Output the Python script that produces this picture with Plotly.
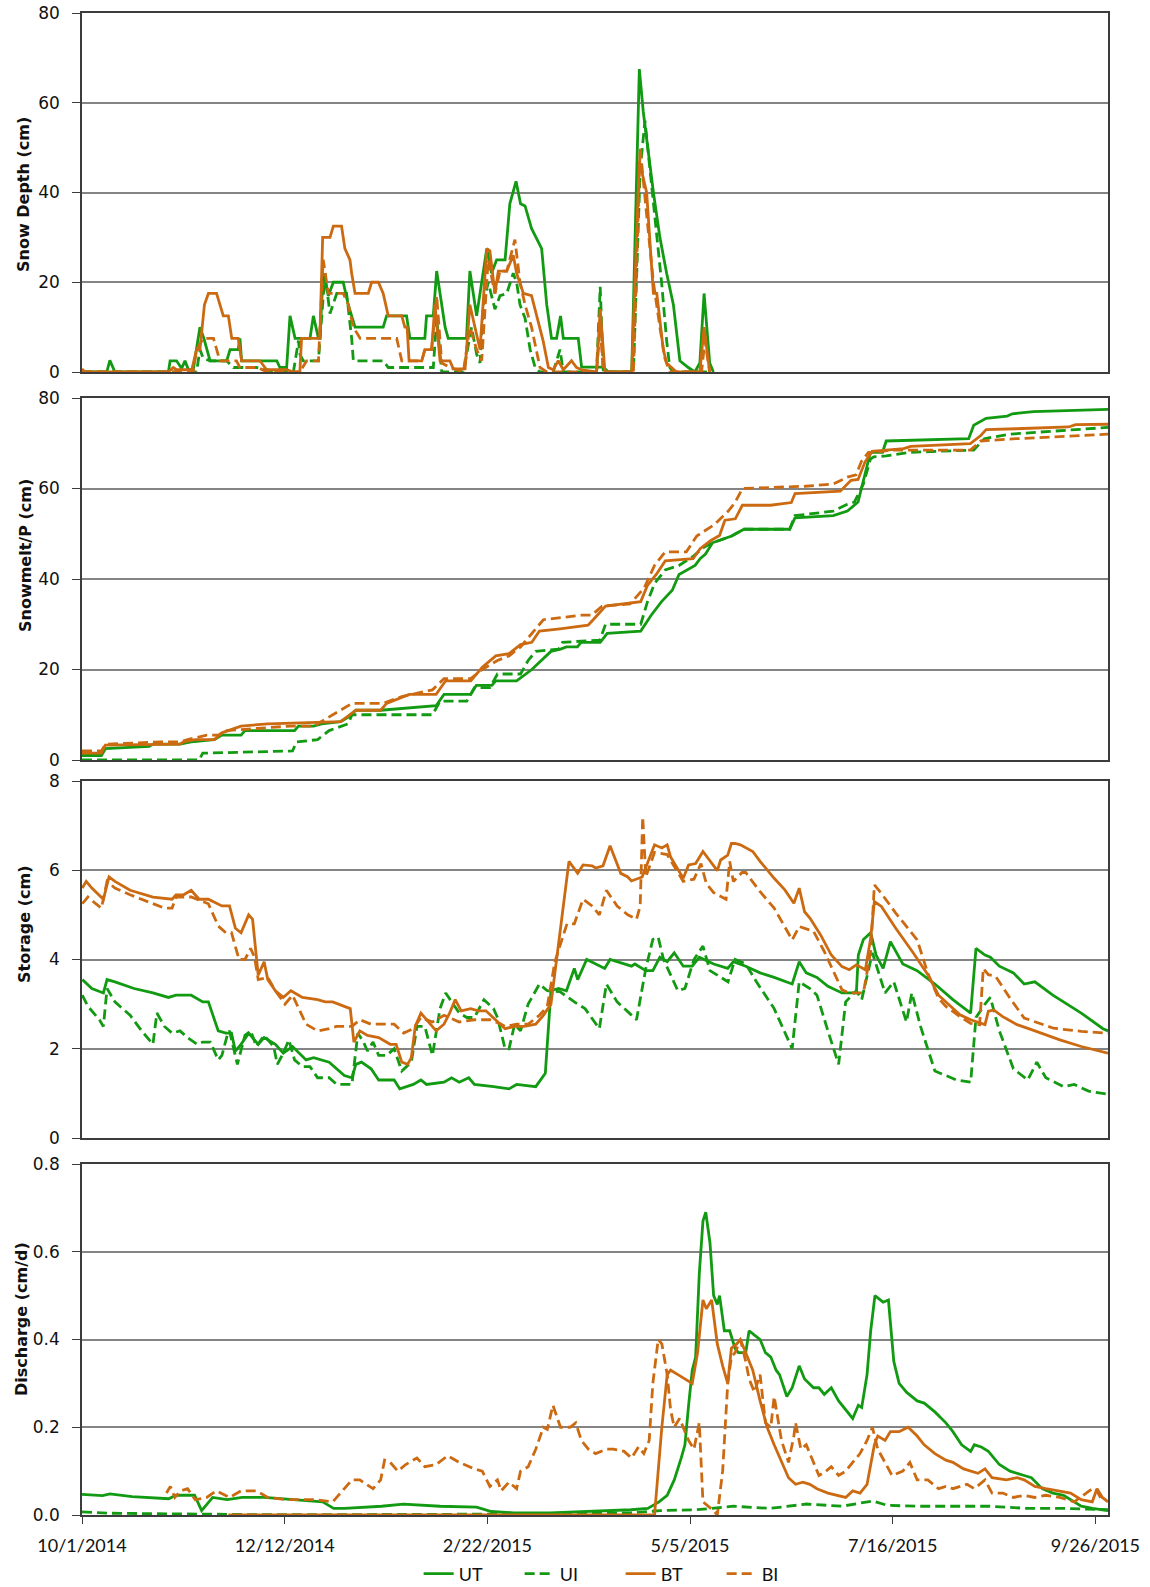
import pandas as pd
import plotly.graph_objects as go

START = pd.Timestamp("2014-10-01")
X_RANGE = ["2014-10-01", "2015-09-30 12:00"]

tick_dates = ["2014-10-01", "2014-12-12", "2015-02-22", "2015-05-05", "2015-07-16", "2015-09-26"]
tick_labels = ["10/1/2014", "12/12/2014", "2/22/2015", "5/5/2015", "7/16/2015", "9/26/2015"]
series_names = ["UT", "UI", "BT", "BI"]
axis_titles = ["Snow Depth (cm)", "Snowmelt/P (cm)", "Storage (cm)", "Discharge (cm/d)"]

# ---------------- Panel 1: Snow depth (cm); x = days since 10/1/2014 ----------------
sd_ut_day = [0, 8.8, 9.9, 11.7, 30.7, 31.3, 33.6, 35.4, 36.6, 37.8, 39.5, 41.9, 43.3, 45.5, 51.4, 52.6, 55.5, 56.1, 56.7, 69.2,
             70.3, 72.7, 73.9, 75.7, 81.0, 82.2, 84.0, 84.5, 85.7, 87.5, 89.3, 92.8, 94.6, 97.0, 107.0, 108.2, 115.3, 116.5, 121.8, 122.4,
             124.8, 126.0, 129.0, 130.1, 136.6, 137.8, 140.2, 142.0, 143.8, 145.5, 147.3, 150.3, 152.0, 154.2, 155.8, 157.4, 159.7, 163.3, 165.1, 166.8,
             168.6, 170.0, 171.0, 176.3, 177.5, 185.2, 187.0, 195.3, 198.0, 199.4, 203.0, 205.3, 207.7, 210.1, 212.4, 215.4, 217.7, 219.5, 221.0, 223.0,
             224.3]
sd_ut_val = [0, 0, 2.6, 0, 0, 2.5, 2.5, 0.8, 2.5, 0.5, 0.5, 10, 7.5, 2.5, 2.5, 5, 5, 7.5, 2.5, 2.5,
             1, 1, 12.5, 7.5, 7.5, 12.5, 7.5, 7.5, 22, 17, 20, 20, 15, 10, 10, 12.5, 12.5, 7.5, 7.5, 12.5,
             12.5, 22.5, 10, 7.5, 7.5, 22.5, 12.5, 20, 27.5, 22, 25, 25, 37.5, 42.5, 37.5, 37, 32, 27.5, 15, 7.5,
             7.5, 12.5, 7.5, 7.5, 1.1, 1.1, 0, 0, 67.5, 58, 40, 30, 22, 15, 2.5, 1, 0, 2, 17.5, 2,
             0]
sd_ui_day = [0, 40.7, 41.9, 43.1, 45.5, 51.4, 53.8, 62.0, 69.2, 75.1, 76.9, 77.4, 78.6, 84.0, 86.3, 88.1, 90.5, 94.0, 95.8, 96.4,
             107.0, 108.8, 124.8, 126.0, 127.8, 135.5, 138.4, 140.2, 141.4, 142.6, 144.3, 146.7, 148.5, 150.9, 153.2, 154.4, 155.6, 157.4, 159.2, 161.0,
             162.7, 167.4, 169.8, 171.0, 182.8, 184.1, 185.2, 195.9, 198.3, 200.0, 201.8, 204.2, 205.9, 207.7, 208.8, 210.1, 224.3]
sd_ui_val = [0, 0, 5, 3, 2.5, 2.5, 1, 1, 0, 0, 7, 4, 2.5, 2.5, 22, 13, 17.5, 17.5, 7.5, 2.5,
             2.5, 1, 1, 12, 0, 0, 10, 4, 2, 15, 20, 14, 17, 17.5, 22, 20, 15, 12, 5, 1,
             0, 0, 5, 0, 0, 19, 0, 0, 45, 56, 45, 30, 20, 7, 1, 0, 0]
sd_bt_day = [0, 1, 30.7, 32.4, 33.6, 39.0, 40.7, 41.9, 43.5, 44.9, 47.8, 50.2, 52.0, 53.2, 55.5, 56.7, 63.2, 65.6, 72.7, 75.1,
             77.4, 78.0, 84.5, 85.5, 88.1, 89.3, 92.2, 93.4, 95.2, 95.8, 97.0, 101.7, 102.9, 105.3, 107.0, 108.8, 113.6, 114.7, 115.5, 116.2,
             120.7, 121.8, 124.2, 125.4, 127.2, 130.7, 131.9, 136.1, 137.8, 139.6, 141.4, 143.8, 144.9, 146.7, 147.9, 150.9, 153.2, 154.4, 156.8, 159.7,
             163.8, 165.7, 167.4, 169.2, 171.0, 173.9, 175.7, 177.5, 182.8, 184.1, 185.8, 195.3, 198.0, 200.6, 203.0, 204.2, 206.5, 207.7, 211.2, 219.5,
             221.0, 223.0]
sd_bt_val = [0.7, 0, 0, 1, 0.5, 0.5, 5, 5, 15, 17.5, 17.5, 12.5, 12.5, 7.5, 7.5, 2.5, 2.5, 0.5, 0.5, 0,
             0, 7.5, 7.5, 30, 30, 32.5, 32.5, 27.5, 25, 22, 17.5, 17.5, 20, 20, 17.5, 12.5, 12.5, 10, 10, 2.5,
             2.5, 5, 5, 15, 2.5, 2.5, 0.7, 0.7, 15, 10, 5, 27.5, 27, 17.5, 22.5, 22.5, 26, 22, 17.5, 17,
             7, 1, 0.5, 2.5, 0.5, 2.5, 1, 0.5, 0, 14, 0, 0, 47, 40, 17.5, 17.5, 5, 2, 0, 0,
             10, 0]
sd_bi_day = [0, 39.5, 40.7, 43.1, 46.7, 49.0, 54.9, 56.1, 62.6, 65.6, 77.4, 79.8, 84.0, 85.7, 87.5, 92.8, 94.6, 96.4, 98.8, 111.8,
             113.6, 120.7, 121.8, 124.2, 126.0, 127.8, 130.7, 135.5, 137.8, 140.2, 142.0, 144.3, 146.7, 148.5, 150.9, 153.8, 155.6, 157.4, 159.7, 161.5,
             162.7, 165.1, 182.8, 184.1, 185.2, 195.9, 198.3, 200.6, 203.0, 205.3, 207.1, 208.8, 220.1, 221.3, 223.0]
sd_bi_val = [0, 0, 5, 7.5, 7.5, 2.5, 2.5, 1, 1, 0, 0, 2.5, 2.5, 25, 17.5, 17.5, 15, 10, 7.5, 7.5,
             2.5, 2.5, 5, 5, 17, 2, 1, 0, 10, 5, 2.5, 25, 17.5, 22.5, 22.5, 29.5, 20, 15, 10, 5,
             1, 0, 0, 10, 0, 0, 50, 35, 20, 10, 3, 0, 0, 7, 0]

# ---------------- Panel 2: cumulative snowmelt / P (cm) ----------------
cm_ut_day = [0, 6.9, 8.3, 23.9, 25.2, 34.8, 38.8, 47.0, 49.7, 56.5, 57.9, 75.5, 76.9, 82.3, 85.1, 91.9, 94.6, 97.3, 106.1, 117.0,
             125.8, 128.6, 138.1, 140.1, 145.6, 147.0, 154.4, 159.8, 166.6, 170.0, 172.1, 176.0, 177.3, 184.1, 186.6, 198.5, 202.2, 205.9, 209.7, 212.1,
             217.8, 219.6, 221.5, 224.0, 230.8, 235.2, 251.4, 253.3, 266.9, 271.9, 275.7, 276.9, 280.1, 284.4, 285.7, 315.0, 316.8, 321.2, 328.7, 330.5,
             338.0, 364.5]
cm_ut_val = [1, 1, 2.5, 3, 3.5, 3.5, 4, 4.5, 5.5, 5.5, 6.5, 6.5, 7.5, 7.5, 8, 8.5, 9.5, 11, 11, 11.5,
             12, 14.5, 14.5, 16.5, 16.5, 17.5, 17.5, 20, 24, 24.5, 25, 25, 26, 26, 28, 28.5, 32, 35, 37.5, 41,
             43, 44.5, 45.5, 48, 49.5, 51, 51, 53.5, 54, 55, 57, 60, 68, 68, 70.5, 71, 74, 75.5, 76, 76.5,
             77, 77.5]
cm_ui_day = [0, 41.6, 42.9, 74.8, 76.2, 83.7, 87.8, 91.9, 94.6, 95.9, 124.5, 127.2, 136.7, 139.4, 144.9, 147.6, 155.8, 158.5, 161.2, 169.3,
             170.7, 184.0, 186.0, 198.5, 200.9, 203.4, 207.2, 212.1, 217.1, 220.9, 224.0, 230.8, 235.2, 251.4, 253.3, 266.9, 271.9, 274.4, 277.6, 280.1,
             281.3, 285.7, 289.4, 294.4, 316.8, 320.6, 329.3, 364.5]
cm_ui_val = [0, 0, 1.5, 2, 4, 4.5, 6.5, 7.5, 8, 10, 10, 13, 13, 16, 16, 19, 19, 22, 24, 24.5,
             26, 26.5, 30, 30, 35, 39, 42, 43, 45, 47, 48, 49.5, 51, 51, 54, 55, 56.5, 57, 61, 66.5,
             67, 67.2, 67.6, 68, 68.5, 71, 72, 73.5]
cm_bt_day = [0, 6.9, 8.3, 34.8, 36.1, 40.2, 47.0, 49.7, 56.5, 66.0, 91.9, 93.9, 97.3, 106.1, 108.2, 116.3, 125.8, 129.2, 138.1, 142.2,
             147.0, 151.7, 155.8, 159.8, 162.5, 169.8, 179.8, 181.6, 186.0, 198.5, 200.9, 204.0, 207.2, 217.1, 219.6, 223.4, 226.5, 228.4, 232.1, 234.6,
             244.6, 252.0, 253.3, 269.4, 273.2, 275.7, 278.2, 280.7, 291.9, 294.4, 315.6, 319.3, 321.2, 331.8, 350.5, 353.0, 364.5]
cm_bt_val = [1.5, 1.5, 3.3, 3.5, 4, 4.5, 4.5, 6, 7.5, 8, 8.5, 9.5, 11, 11, 12.5, 14.5, 14.5, 17.5, 17.5, 20.5,
             23, 23.5, 25.5, 26, 28.5, 29, 29.8, 31, 34, 35, 38.6, 41, 44, 44.5, 46.7, 48.5, 49.6, 53, 53.3, 56.3,
             56.3, 56.9, 58.9, 59.4, 61.8, 62, 65.9, 68.2, 68.8, 69.3, 69.9, 71.7, 73, 73.2, 73.6, 74.1, 74.2]
cm_bi_day = [0, 6.9, 8.3, 28.0, 34.8, 37.5, 44.3, 48.4, 51.1, 63.3, 74.2, 82.3, 86.4, 90.5, 95.9, 106.8, 113.6, 124.5, 128.6, 138.1,
             142.2, 147.6, 151.7, 155.8, 159.8, 163.9, 170.7, 177.5, 181.0, 184.8, 194.7, 199.7, 203.4, 207.2, 214.7, 218.4, 224.6, 229.6, 232.1, 234.6,
             257.0, 266.9, 271.9, 275.0, 276.9, 279.4, 282.6, 286.9, 315.6, 319.3, 331.8, 364.5]
cm_bi_val = [2, 2, 3.5, 4, 4, 4.5, 5.5, 5.5, 6.5, 7, 7.5, 7.5, 9, 10.5, 12.5, 12.5, 14, 15.5, 18, 18,
             20, 22, 23, 25, 28, 31, 31.5, 32, 32, 34, 34.5, 38, 43, 46, 46, 49.5, 52, 55, 57, 60,
             60.5, 61, 62.5, 63, 66, 68, 68, 68.5, 68.5, 70.5, 71, 72]

# ---------------- Panel 3: storage (cm) ----------------
st_ut_day = [0.1, 3.5, 7.6, 8.9, 11.7, 18.5, 25.2, 30.7, 33.4, 38.8, 42.9, 44.9, 48.4, 51.1, 53.1, 54.5, 56.5, 59.2, 62.6, 64.7,
             68.7, 71.5, 74.8, 79.6, 82.3, 87.8, 93.2, 95.9, 97.3, 99.3, 102.7, 105.4, 110.9, 112.9, 117.7, 120.4, 122.4, 128.6, 131.3, 134.0,
             137.4, 139.4, 146.2, 151.7, 154.4, 161.2, 164.6, 166.6, 169.3, 172.1, 174.9, 176.1, 179.3, 182.5, 185.7, 187.6, 192.6, 195.2, 196.4, 200.3,
             202.8, 205.3, 207.9, 210.4, 213.6, 216.8, 219.3, 224.4, 229.4, 231.4, 235.8, 240.9, 245.9, 252.3, 254.8, 257.3, 261.1, 265.0, 270.0, 275.1,
             275.8, 277.6, 280.2, 282.1, 284.6, 287.2, 291.6, 296.7, 303.0, 309.4, 315.7, 317.6, 320.8, 322.7, 325.9, 330.9, 334.7, 338.5, 344.9, 355.0,
             362.7, 364.5]
st_ut_val = [3.55, 3.35, 3.25, 3.55, 3.5, 3.35, 3.25, 3.15, 3.2, 3.2, 3.05, 3.05, 2.4, 2.35, 2.35, 1.95, 2.1, 2.35, 2.1, 2.25,
             2.1, 1.9, 2.05, 1.75, 1.8, 1.7, 1.4, 1.35, 1.65, 1.7, 1.55, 1.3, 1.3, 1.1, 1.2, 1.3, 1.2, 1.25, 1.35, 1.25,
             1.35, 1.2, 1.15, 1.1, 1.2, 1.15, 1.45, 3.3, 3.35, 3.3, 3.8, 3.55, 4.0, 3.9, 3.8, 4.0, 3.9, 3.85, 3.9, 3.75,
             3.75, 4.05, 3.95, 4.15, 3.85, 3.85, 4.05, 3.9, 3.8, 3.95, 3.85, 3.7, 3.6, 3.45, 3.95, 3.7, 3.6, 3.4, 3.25, 3.25,
             4.1, 4.45, 4.6, 4.1, 3.8, 4.4, 3.9, 3.75, 3.45, 3.1, 2.8, 4.25, 4.1, 4.05, 3.85, 3.7, 3.45, 3.5, 3.2, 2.8,
             2.45, 2.4]
st_ui_day = [0.1, 2.1, 6.2, 7.6, 8.9, 11.7, 17.1, 21.2, 25.2, 26.6, 29.3, 32.0, 34.8, 37.5, 40.9, 42.9, 45.6, 48.4, 49.7, 51.8,
             52.4, 55.2, 57.9, 59.9, 62.0, 64.7, 68.1, 69.4, 71.5, 73.5, 75.5, 78.3, 81.0, 83.7, 87.8, 90.5, 95.9, 98.0, 100.0, 101.4,
             103.4, 105.4, 108.2, 110.9, 113.6, 117.0, 119.0, 121.8, 124.5, 127.2, 129.2, 131.3, 134.0, 136.7, 139.4, 142.8, 146.2, 147.6, 150.3, 151.7,
             153.7, 155.8, 158.5, 162.5, 165.3, 169.8, 174.9, 178.7, 183.8, 186.3, 190.1, 197.0, 200.3, 202.8, 204.7, 206.6, 211.7, 214.2, 217.4, 220.6,
             223.1, 225.7, 229.5, 232.0, 235.8, 239.6, 245.9, 252.3, 254.8, 258.6, 261.1, 265.0, 268.8, 271.3, 275.1, 277.0, 280.8, 285.3, 288.4, 292.9,
             294.8, 297.9, 303.0, 306.9, 310.6, 315.7, 317.6, 320.8, 322.7, 325.9, 330.9, 336.0, 339.2, 342.4, 348.7, 352.5, 357.6, 364.5]
st_ui_val = [3.2, 2.95, 2.65, 2.5, 3.35, 3.05, 2.75, 2.4, 2.1, 2.8, 2.5, 2.35, 2.4, 2.25, 2.1, 2.15, 2.15, 1.75, 1.85, 2.35,
             2.4, 1.65, 2.3, 2.4, 2.05, 2.3, 2.05, 1.65, 1.9, 2.2, 1.75, 1.6, 1.6, 1.35, 1.35, 1.2, 1.2, 2.35, 2.15, 1.95,
             2.15, 1.85, 1.85, 2.0, 1.5, 1.7, 2.5, 2.5, 1.85, 2.9, 3.25, 3.05, 2.8, 2.7, 2.7, 3.1, 2.9, 2.7, 2.0, 2.0,
             2.55, 2.4, 3.0, 3.45, 3.3, 3.28, 3.05, 2.9, 2.45, 3.45, 3.05, 2.65, 3.8, 4.45, 4.5, 4.0, 3.3, 3.35, 4.0, 4.3,
             3.75, 3.65, 3.5, 4.0, 3.9, 3.5, 2.9, 2.0, 3.5, 3.35, 3.2, 2.4, 1.65, 3.05, 3.3, 3.1, 4.15, 3.25, 3.5, 2.6,
             3.25, 2.5, 1.5, 1.4, 1.3, 1.25, 2.7, 3.0, 3.15, 2.4, 1.55, 1.3, 1.7, 1.35, 1.15, 1.2, 1.05, 0.98]
st_bt_day = [0.1, 1.5, 3.5, 7.6, 9.6, 11.7, 17.1, 25.2, 32.0, 33.4, 36.1, 38.8, 41.6, 44.9, 49.7, 52.4, 54.5, 56.5, 59.2, 60.6,
             62.6, 64.7, 66.0, 68.7, 71.5, 74.2, 78.3, 83.7, 86.4, 89.1, 93.2, 95.3, 96.6, 98.7, 101.4, 105.4, 109.5, 111.6, 113.6, 115.7,
             117.0, 118.4, 120.4, 123.1, 125.8, 128.6, 130.6, 132.6, 134.7, 138.1, 140.8, 143.5, 147.6, 150.3, 153.7, 157.1, 161.2, 163.9, 166.6, 169.7,
             173.0, 176.1, 178.0, 181.2, 182.5, 185.1, 187.6, 191.4, 193.9, 195.2, 199.0, 203.4, 206.0, 207.9, 209.1, 213.6, 215.5, 218.0, 220.6, 225.7,
             226.9, 229.4, 230.7, 232.0, 233.9, 238.3, 240.9, 245.9, 249.7, 252.9, 254.8, 256.7, 258.6, 262.4, 266.2, 270.0, 272.6, 275.1, 278.3, 280.2,
             281.5, 284.0, 289.1, 295.4, 300.5, 304.3, 308.0, 311.9, 315.7, 320.8, 322.0, 323.9, 327.1, 332.2, 337.3, 347.4, 355.0, 364.5]
st_bt_val = [5.6, 5.75, 5.6, 5.35, 5.85, 5.75, 5.55, 5.4, 5.35, 5.45, 5.45, 5.55, 5.35, 5.35, 5.2, 5.2, 4.7, 4.6, 5.0, 4.9,
             3.65, 3.95, 3.55, 3.3, 3.15, 3.3, 3.15, 3.1, 3.05, 3.05, 2.95, 2.9, 2.15, 2.4, 2.3, 2.25, 2.1, 2.1, 1.7, 1.65,
             1.8, 2.5, 2.8, 2.6, 2.4, 2.55, 2.8, 3.1, 2.85, 2.9, 2.85, 2.85, 2.6, 2.45, 2.5, 2.5, 2.55, 2.75, 3.0, 4.5,
             6.2, 5.93, 6.12, 6.1, 6.05, 6.1, 6.55, 5.93, 5.85, 5.76, 5.85, 6.57, 6.5, 6.57, 6.3, 5.82, 6.12, 6.15, 6.42, 5.99,
             6.23, 6.34, 6.6, 6.6, 6.57, 6.42, 6.2, 5.82, 5.56, 5.26, 5.6, 5.07, 4.93, 4.55, 4.1, 3.84, 3.77, 3.88, 3.77, 4.48,
             5.3, 5.19, 4.7, 4.14, 3.66, 3.2, 2.99, 2.76, 2.65, 2.54, 2.84, 2.87, 2.72, 2.54, 2.43, 2.2, 2.05, 1.9]
st_bi_day = [0.1, 2.1, 4.9, 6.9, 8.9, 11.7, 17.1, 25.2, 29.3, 32.0, 33.4, 38.8, 42.9, 44.9, 48.4, 51.1, 53.1, 55.8, 57.9, 59.9,
             61.3, 62.6, 66.0, 68.7, 72.1, 74.8, 79.6, 83.7, 87.8, 90.5, 95.9, 98.7, 102.7, 106.8, 110.9, 114.3, 117.7, 120.4, 124.5, 128.6,
             134.0, 139.4, 144.9, 148.9, 150.3, 154.4, 158.5, 162.5, 165.3, 168.0, 169.8, 172.3, 174.9, 178.0, 181.2, 183.8, 186.3, 190.1, 193.9, 197.0,
             198.3, 199.2, 200.3, 203.4, 207.9, 213.6, 217.4, 219.9, 221.8, 224.4, 228.8, 230.1, 231.4, 234.5, 235.8, 240.9, 245.9, 252.3, 254.8, 259.9,
             263.7, 270.0, 272.6, 277.6, 280.2, 281.5, 284.0, 289.1, 296.7, 300.5, 304.3, 306.9, 311.9, 315.7, 318.9, 320.2, 322.0, 324.6, 329.7, 334.7,
             345.1, 355.0, 364.5]
st_bi_val = [5.25, 5.4, 5.25, 5.15, 5.75, 5.6, 5.45, 5.25, 5.15, 5.15, 5.4, 5.4, 5.3, 5.25, 4.75, 4.6, 4.6, 4.0, 4.0, 4.25,
             4.05, 3.55, 3.6, 3.3, 3.0, 3.2, 2.55, 2.4, 2.45, 2.5, 2.5, 2.65, 2.55, 2.55, 2.55, 2.35, 2.45, 2.7, 2.6, 2.75,
             2.6, 2.65, 2.65, 2.55, 2.5, 2.55, 2.55, 2.75, 2.95, 3.95, 4.3, 4.8, 4.8, 5.35, 5.2, 5.0, 5.55, 5.2, 5.0, 4.9,
             5.2, 7.2, 5.85, 6.4, 6.35, 5.75, 5.8, 6.15, 5.7, 5.5, 5.35, 6.2, 5.75, 5.95, 5.95, 5.52, 5.15, 4.44, 4.74, 4.63,
             4.18, 3.32, 3.25, 3.25, 4.18, 5.67, 5.48, 5.04, 4.44, 3.69, 3.13, 2.95, 2.72, 2.57, 2.54, 3.8, 3.66, 3.62, 3.13, 2.69,
             2.46, 2.39, 2.35]

# ---------------- Panel 4: discharge (cm/d) ----------------
q_ut_day = [0, 7.3, 9.9, 17.8, 30.8, 33.4, 40.0, 42.5, 46.4, 51.6, 56.9, 64.7, 75.1, 85.5, 89.4, 93.3, 106.4, 114.2, 127.2, 140.2,
            145.4, 153.3, 166.3, 179.3, 195.0, 201.0, 205.0, 207.9, 210.4, 212.9, 214.2, 215.5, 216.8, 218.0, 219.3, 220.6, 221.6, 223.1, 224.4, 225.7,
            226.5, 228.2, 230.1, 232.0, 233.2, 235.8, 237.0, 238.9, 240.9, 242.8, 244.7, 246.6, 247.8, 250.4, 252.3, 254.8, 256.7, 259.9, 261.8, 263.7,
            266.2, 268.8, 271.3, 273.8, 275.8, 277.0, 278.9, 280.2, 281.7, 284.6, 286.5, 288.4, 290.3, 292.9, 296.7, 299.2, 303.0, 306.9, 309.4, 312.5,
            315.7, 317.0, 319.5, 322.0, 325.9, 329.7, 334.7, 337.3, 341.1, 344.9, 348.7, 352.5, 355.0, 359.0, 364.5]
q_ut_val = [0.047, 0.044, 0.048, 0.042, 0.037, 0.045, 0.045, 0.01, 0.04, 0.035, 0.04, 0.04, 0.035, 0.03, 0.015, 0.015, 0.02, 0.025, 0.02, 0.018,
            0.008, 0.005, 0.005, 0.008, 0.012, 0.015, 0.03, 0.045, 0.08, 0.13, 0.16, 0.25, 0.33, 0.36, 0.55, 0.67, 0.69, 0.62, 0.5, 0.48,
            0.5, 0.42, 0.42, 0.38, 0.37, 0.37, 0.42, 0.41, 0.4, 0.37, 0.36, 0.33, 0.32, 0.27, 0.29, 0.34, 0.31, 0.29, 0.29, 0.275,
            0.29, 0.26, 0.24, 0.22, 0.25, 0.245, 0.32, 0.42, 0.5, 0.485, 0.49, 0.35, 0.3, 0.28, 0.26, 0.255, 0.235, 0.21, 0.19, 0.16,
            0.145, 0.16, 0.155, 0.145, 0.115, 0.1, 0.09, 0.085, 0.06, 0.05, 0.045, 0.03, 0.02, 0.015, 0.01]
q_ui_day = [0, 10, 25, 45, 60, 100, 150, 195, 205.4, 218.4, 231.4, 244.4, 257.5, 270, 280.9, 286.1, 296.6, 309.6, 322.6, 335.7,
            348.7, 364.5]
q_ui_val = [0.007, 0.004, 0.003, 0.002, 0.001, 0.001, 0.002, 0.005, 0.01, 0.012, 0.02, 0.015, 0.025, 0.02, 0.032, 0.022, 0.02, 0.02, 0.02, 0.015,
            0.015, 0.012]
q_bt_day = [52, 203.4, 204.7, 206.0, 207.9, 209.1, 211.7, 214.2, 216.8, 218.7, 220.6, 221.8, 223.7, 225.7, 227.6, 229.4, 230.7, 232.6, 233.9, 235.8,
            238.3, 240.9, 243.4, 245.9, 248.5, 251.0, 253.5, 256.1, 258.6, 261.1, 265.0, 268.8, 271.3, 273.8, 276.4, 278.9, 281.5, 282.7, 285.3, 287.2,
            290.3, 293.5, 296.7, 299.2, 303.0, 306.9, 309.4, 313.2, 318.3, 320.8, 323.3, 328.4, 332.2, 334.7, 338.5, 342.4, 347.4, 351.2, 355.0, 358.9,
            360.6, 362.5, 364.5]
q_bt_val = [0, 0, 0.1, 0.2, 0.32, 0.33, 0.32, 0.31, 0.3, 0.37, 0.49, 0.47, 0.49, 0.39, 0.34, 0.3, 0.38, 0.39, 0.4, 0.37,
            0.33, 0.26, 0.2, 0.16, 0.12, 0.085, 0.07, 0.075, 0.07, 0.06, 0.05, 0.045, 0.04, 0.055, 0.05, 0.07, 0.16, 0.18, 0.17, 0.19,
            0.19, 0.2, 0.18, 0.16, 0.14, 0.125, 0.12, 0.105, 0.095, 0.105, 0.085, 0.08, 0.085, 0.08, 0.065, 0.06, 0.055, 0.05, 0.035, 0.03,
            0.06, 0.04, 0.03]
q_bi_day = [30.0, 31.4, 33.0, 35.0, 37.5, 40.2, 44.3, 47.7, 52.4, 56.5, 62.0, 66.0, 72.8, 82.3, 89.1, 90.5, 95.9, 98.7, 103.4, 106.1,
            107.5, 109.5, 112.2, 115.0, 119.0, 121.8, 125.8, 129.9, 134.0, 139.4, 142.2, 144.9, 147.6, 148.9, 151.7, 154.4, 155.8, 158.5, 161.2, 163.9,
            165.3, 167.3, 170.0, 173.4, 175.4, 177.4, 179.9, 182.5, 186.3, 188.8, 192.6, 195.2, 197.7, 199.6, 201.5, 202.8, 204.7, 206.0, 207.9, 209.1,
            210.4, 212.3, 213.6, 215.5, 217.4, 219.3, 220.6, 224.4, 225.7, 227.6, 229.4, 230.7, 232.0, 233.9, 235.8, 237.0, 238.9, 240.9, 242.8, 244.7,
            245.9, 248.5, 251.0, 252.9, 253.5, 255.4, 257.3, 259.9, 261.8, 264.3, 266.2, 268.8, 271.3, 273.8, 276.4, 278.9, 280.8, 282.7, 285.3, 287.8,
            291.6, 294.1, 296.7, 300.5, 304.3, 306.9, 309.4, 314.4, 317.0, 320.8, 323.3, 327.1, 330.9, 334.7, 338.5, 342.4, 347.4, 352.5, 358.9, 360.1,
            362.7]
q_bi_val = [0.05, 0.065, 0.04, 0.055, 0.06, 0.035, 0.04, 0.055, 0.04, 0.055, 0.055, 0.04, 0.035, 0.035, 0.03, 0.04, 0.08, 0.08, 0.06, 0.08,
            0.125, 0.12, 0.1, 0.115, 0.13, 0.11, 0.115, 0.135, 0.12, 0.105, 0.1, 0.065, 0.08, 0.055, 0.075, 0.06, 0.1, 0.11, 0.15, 0.2,
            0.195, 0.25, 0.2, 0.2, 0.21, 0.17, 0.15, 0.14, 0.15, 0.15, 0.145, 0.13, 0.155, 0.14, 0.17, 0.3, 0.4, 0.39, 0.32, 0.24,
            0.2, 0.22, 0.2, 0.17, 0.15, 0.21, 0.03, 0.01, 0.0, 0.1, 0.3, 0.36, 0.37, 0.4, 0.35, 0.31, 0.28, 0.32, 0.21, 0.2,
            0.27, 0.17, 0.12, 0.18, 0.21, 0.15, 0.16, 0.12, 0.09, 0.1, 0.11, 0.09, 0.1, 0.12, 0.14, 0.17, 0.2, 0.15, 0.12, 0.09,
            0.1, 0.12, 0.08, 0.08, 0.06, 0.065, 0.06, 0.07, 0.06, 0.08, 0.05, 0.05, 0.04, 0.045, 0.04, 0.045, 0.04, 0.03, 0.06, 0.06,
            0.03]

y_ranges = [[0, 80], [0, 80], [0, 8], [0, 0.8]]
y_dticks = [20, 20, 2, 0.2]
y_formats = ["d", "d", "d", ".1f"]

# ---------------- styling ----------------
GREEN = "#129a12"
ORANGE = "#cc6a12"
FRAME = "#3c3c3c"
GRID = "#848484"
styles = {
    "UT": dict(color=GREEN, dash="solid"),
    "UI": dict(color=GREEN, dash="10px,5px"),
    "BT": dict(color=ORANGE, dash="solid"),
    "BI": dict(color=ORANGE, dash="10px,5px"),
}
panels = [
    [(sd_ut_day, sd_ut_val), (sd_ui_day, sd_ui_val), (sd_bt_day, sd_bt_val), (sd_bi_day, sd_bi_val)],
    [(cm_ut_day, cm_ut_val), (cm_ui_day, cm_ui_val), (cm_bt_day, cm_bt_val), (cm_bi_day, cm_bi_val)],
    [(st_ut_day, st_ut_val), (st_ui_day, st_ui_val), (st_bt_day, st_bt_val), (st_bi_day, st_bi_val)],
    [(q_ut_day, q_ut_val), (q_ui_day, q_ui_val), (q_bt_day, q_bt_val), (q_bi_day, q_bi_val)],
]


def to_dates(days):
    return [START + pd.Timedelta(days=float(d)) for d in days]


W, H = 1150, 1587
ML, MR, MT, MB = 82, 42, 13, 72
plot_h = H - MT - MB
plot_w = W - ML - MR
panel_px = [(13, 372), (398, 760), (781, 1138), (1164, 1515)]
title_px = [(24, 195), (26, 556), (24, 924), (21, 1319)]


def py(p):
    return (H - MB - p) / plot_h


def px(p):
    return (p - ML) / plot_w


fig = go.Figure()
for i, panel in enumerate(panels):
    ax = "" if i == 0 else str(i + 1)
    for name, (days, vals) in zip(series_names, panel):
        st = styles[name]
        fig.add_trace(go.Scatter(
            x=to_dates(days), y=vals, mode="lines", name=name,
            legendgroup=name, showlegend=(i == 0),
            line=dict(color=st["color"], dash=st["dash"], width=2.8),
            xaxis="x" + ax, yaxis="y" + ax, hoverinfo="skip",
        ))

layout = dict(
    width=W, height=H, autosize=False,
    margin=dict(l=ML, r=MR, t=MT, b=MB, autoexpand=False),
    paper_bgcolor="white", plot_bgcolor="white",
    showlegend=True,
    legend=dict(orientation="h", x=0.525, xanchor="center", y=-(1574 - (H - MB)) / plot_h, yanchor="middle",
                font=dict(family="Lato, Liberation Sans, sans-serif", size=18, color="#111"),
                entrywidth=56, entrywidthmode="pixels", traceorder="normal", bgcolor="rgba(0,0,0,0)"),
    annotations=[],
)
for i in range(4):
    ax = "" if i == 0 else str(i + 1)
    top, bot = panel_px[i]
    xa = dict(type="date", range=X_RANGE, anchor="y" + ax, domain=[0, 1],
              showgrid=False, zeroline=False, showline=True, mirror=True,
              linecolor=FRAME, linewidth=1.5)
    if i < 3:
        xa.update(ticks="", showticklabels=False, matches="x4")
    else:
        xa.update(ticks="outside", ticklen=7, tickwidth=1.3, tickcolor=FRAME,
                  tickvals=tick_dates, ticktext=tick_labels, ticklabelstandoff=7,
                  tickfont=dict(family="Lato, Liberation Sans, sans-serif", size=18, color="#111"))
    ya = dict(domain=[py(bot), py(top)], range=y_ranges[i], dtick=y_dticks[i], tick0=0,
              tickformat=y_formats[i], anchor="x" + ax,
              showgrid=True, gridcolor=GRID, gridwidth=1.5, zeroline=False,
              showline=True, mirror=True, linecolor=FRAME, linewidth=1.5,
              ticks="outside", ticklen=8, tickwidth=1.3, tickcolor=FRAME, ticklabelstandoff=9,
              tickfont=dict(family="DejaVu Sans, sans-serif", size=17, color="#111"))
    layout["xaxis" + ax] = xa
    layout["yaxis" + ax] = ya
    tx, ty = title_px[i]
    layout["annotations"].append(dict(
        text="<b>" + axis_titles[i] + "</b>", xref="paper", yref="paper",
        x=px(tx), y=py(ty), xanchor="center", yanchor="middle", textangle=-90,
        showarrow=False, font=dict(family="DejaVu Sans, sans-serif", size=16, color="#111")))

fig.update_layout(**layout)
fig.write_html("out.html")
